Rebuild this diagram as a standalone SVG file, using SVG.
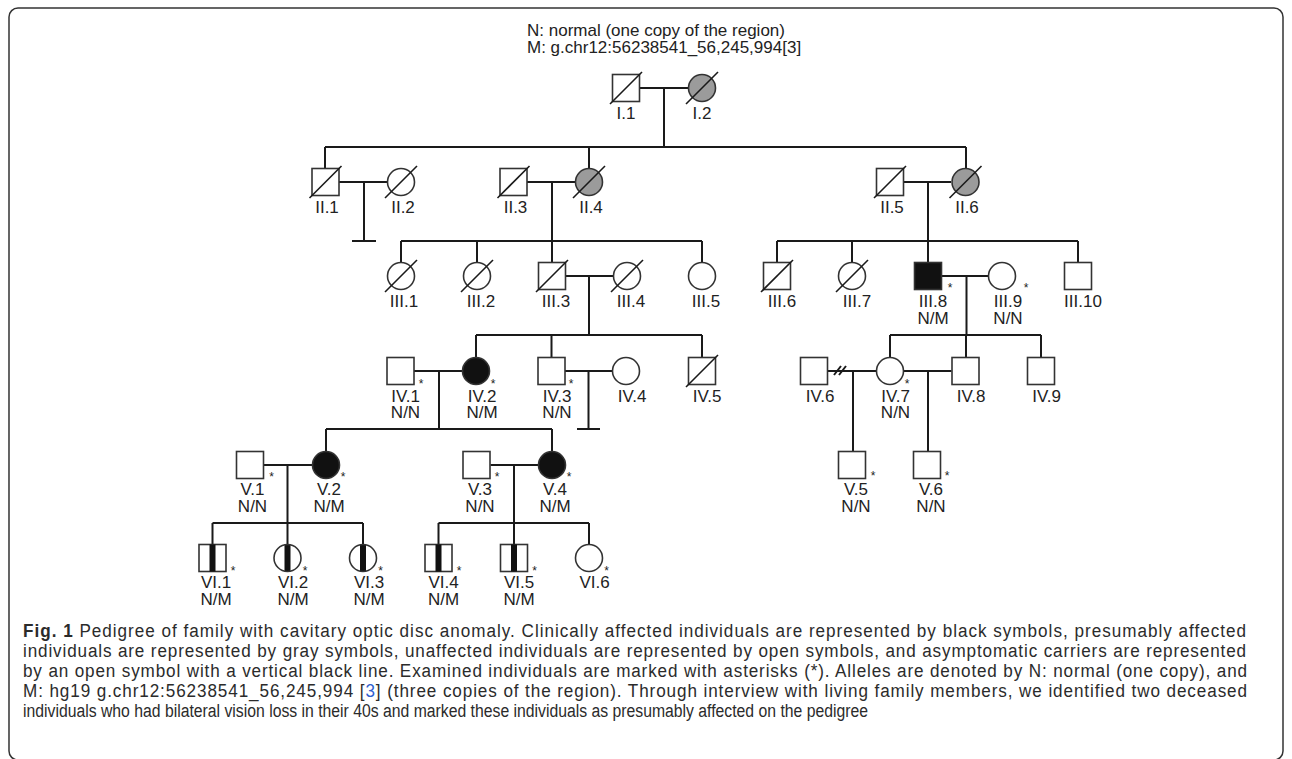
<svg xmlns="http://www.w3.org/2000/svg" width="1292" height="759" viewBox="0 0 1292 759">
<style>
.ln{stroke:#1a1a1a;stroke-width:2;fill:none}
.sym{stroke:#333;stroke-width:1.6;fill:#fff}
.open{fill:none}
.gray{fill:#9b9b9b}
.blk{fill:#111}
.dec{stroke:#1a1a1a;stroke-width:1.6}
.bar{fill:#111}
text{font-family:"Liberation Sans",Arial,sans-serif;fill:#222}
.lbl{font-size:17px;text-anchor:middle}
.ast{font-size:12px;text-anchor:middle}
.hdr{font-size:17px}
.cap{font-family:"Liberation Sans",Arial,sans-serif;font-size:19px;fill:#2b2b2b}
</style>
<rect x="9" y="8" width="1274" height="752" rx="9" fill="#fff" stroke="#333" stroke-width="1.5"/>
<g id="header">
<text class="hdr" x="527" y="36">N: normal (one copy of the region)</text>
<text class="hdr" x="527" y="53">M: g.chr12:56238541_56,245,994[3]</text>
</g>
<g id="connectors">
<path class="ln" d="M640,88H688M664,88V147M325,147H966M325,147V168M589,147V168M966,147V168"/>
<path class="ln" d="M339,182H387M364,182V241M352,241H376"/>
<path class="ln" d="M527,182H575M552,182V241M401,241H702M401,241V262M477,241V262M552,241V262M702,241V262"/>
<path class="ln" d="M904,182H951M928,182V241M777,241H1078M777,241V262M852,241V262M928,241V262M1078,241V262"/>
<path class="ln" d="M566,276H613M589,276V335M476,335H702M476,335V357M551.5,335V357M702,335V357"/>
<path class="ln" d="M942,276H988M966.5,276V335M890,335H1041M890,335V357M966,335V357M1041,335V357"/>
<path class="ln" d="M414,371H462M439,371V429M326,429H552M326,429V451M552,429V451"/>
<path class="ln" d="M565,371H612M588.5,371V429M577,429H600"/>
<path class="ln" d="M828,371H876M853,371V451M904,371H951.5M928,371V451"/>
<path class="ln" stroke-width="1.5" d="M834,375L841,366M839,375L846,366"/>
<path class="ln" d="M264,465H312M287.5,465V523M212.5,523H363M212.5,523V544M287.5,523V544M363,523V544"/>
<path class="ln" d="M490.5,465H538M514,465V523M438.5,523H589M438.5,523V544M514,523V544M589,523V544"/>
</g>
<g id="I-1"><rect class="sym" x="612.5" y="74.5" width="27" height="27"/><line class="dec" x1="610" y1="104" x2="642" y2="72"/><text class="lbl" x="626" y="119">I.1</text></g>
<g id="I-2"><circle class="sym gray" cx="702" cy="88" r="13.5"/><line class="dec" x1="686" y1="104" x2="718" y2="72"/><text class="lbl" x="702" y="119">I.2</text></g>
<g id="II-1"><rect class="sym" x="312" y="168.5" width="27" height="27"/><line class="dec" x1="309.5" y1="198" x2="341.5" y2="166"/><text class="lbl" x="327" y="213">II.1</text></g>
<g id="II-2"><circle class="sym" cx="401" cy="182" r="13.5"/><line class="dec" x1="385" y1="198" x2="417" y2="166"/><text class="lbl" x="403" y="213">II.2</text></g>
<g id="II-3"><rect class="sym" x="500" y="168.5" width="27" height="27"/><line class="dec" x1="497.5" y1="198" x2="529.5" y2="166"/><text class="lbl" x="515.5" y="213">II.3</text></g>
<g id="II-4"><circle class="sym gray" cx="589" cy="182" r="13.5"/><line class="dec" x1="573" y1="198" x2="605" y2="166"/><text class="lbl" x="591" y="213">II.4</text></g>
<g id="II-5"><rect class="sym" x="876.5" y="168.5" width="27" height="27"/><line class="dec" x1="874" y1="198" x2="906" y2="166"/><text class="lbl" x="892" y="213">II.5</text></g>
<g id="II-6"><circle class="sym gray" cx="965.5" cy="182" r="13.5"/><line class="dec" x1="949.5" y1="198" x2="981.5" y2="166"/><text class="lbl" x="967" y="213">II.6</text></g>
<g id="III-1"><circle class="sym" cx="401" cy="276" r="13.5"/><line class="dec" x1="385" y1="292" x2="417" y2="260"/><text class="lbl" x="404" y="307">III.1</text></g>
<g id="III-2"><circle class="sym" cx="477" cy="276" r="13.5"/><line class="dec" x1="461" y1="292" x2="493" y2="260"/><text class="lbl" x="481" y="307">III.2</text></g>
<g id="III-3"><rect class="sym" x="538.5" y="262.5" width="27" height="27"/><line class="dec" x1="536" y1="292" x2="568" y2="260"/><text class="lbl" x="556" y="307">III.3</text></g>
<g id="III-4"><circle class="sym" cx="627" cy="276" r="13.5"/><line class="dec" x1="611" y1="292" x2="643" y2="260"/><text class="lbl" x="631" y="307">III.4</text></g>
<g id="III-5"><circle class="sym" cx="702" cy="276" r="13.5"/><text class="lbl" x="706" y="307">III.5</text></g>
<g id="III-6"><rect class="sym" x="763.5" y="262.5" width="27" height="27"/><line class="dec" x1="761" y1="292" x2="793" y2="260"/><text class="lbl" x="782" y="307">III.6</text></g>
<g id="III-7"><circle class="sym" cx="852" cy="276" r="13.5"/><line class="dec" x1="836" y1="292" x2="868" y2="260"/><text class="lbl" x="857" y="307">III.7</text></g>
<g id="III-8"><rect class="sym blk" x="914.5" y="262.5" width="27" height="27"/><text class="ast" x="950" y="292">*</text><text class="lbl" x="933" y="307">III.8</text><text class="lbl" x="933" y="324">N/M</text></g>
<g id="III-9"><circle class="sym" cx="1002" cy="276" r="13.5"/><text class="ast" x="1026" y="292">*</text><text class="lbl" x="1008" y="307">III.9</text><text class="lbl" x="1008" y="324">N/N</text></g>
<g id="III-10"><rect class="sym" x="1064.5" y="262.5" width="27" height="27"/><text class="lbl" x="1083" y="307">III.10</text></g>
<g id="IV-1"><rect class="sym" x="387" y="357.5" width="27" height="27"/><text class="ast" x="421" y="388">*</text><text class="lbl" x="405.5" y="402">IV.1</text><text class="lbl" x="405.5" y="418">N/N</text></g>
<g id="IV-2"><circle class="sym blk" cx="476" cy="371" r="13.5"/><text class="ast" x="493" y="388">*</text><text class="lbl" x="482" y="402">IV.2</text><text class="lbl" x="482" y="418">N/M</text></g>
<g id="IV-3"><rect class="sym" x="538" y="357.5" width="27" height="27"/><text class="ast" x="571" y="388">*</text><text class="lbl" x="557" y="402">IV.3</text><text class="lbl" x="557" y="418">N/N</text></g>
<g id="IV-4"><circle class="sym" cx="626" cy="371" r="13.5"/><text class="lbl" x="632" y="402">IV.4</text></g>
<g id="IV-5"><rect class="sym" x="688.5" y="357.5" width="27" height="27"/><line class="dec" x1="686" y1="387" x2="718" y2="355"/><text class="lbl" x="707" y="402">IV.5</text></g>
<g id="IV-6"><rect class="sym" x="800.5" y="357.5" width="27" height="27"/><text class="lbl" x="820" y="402">IV.6</text></g>
<g id="IV-7"><circle class="sym" cx="890" cy="371" r="13.5"/><text class="ast" x="907" y="388">*</text><text class="lbl" x="895.5" y="402">IV.7</text><text class="lbl" x="895.5" y="418">N/N</text></g>
<g id="IV-8"><rect class="sym" x="952" y="357.5" width="27" height="27"/><text class="lbl" x="971" y="402">IV.8</text></g>
<g id="IV-9"><rect class="sym" x="1027.5" y="357.5" width="27" height="27"/><text class="lbl" x="1046.5" y="402">IV.9</text></g>
<g id="V-1"><rect class="sym" x="236.5" y="451.5" width="27" height="27"/><text class="ast" x="271.5" y="481">*</text><text class="lbl" x="252.5" y="495">V.1</text><text class="lbl" x="252.5" y="512">N/N</text></g>
<g id="V-2"><circle class="sym blk" cx="326" cy="465" r="13.5"/><text class="ast" x="343" y="481">*</text><text class="lbl" x="329" y="495">V.2</text><text class="lbl" x="329" y="512">N/M</text></g>
<g id="V-3"><rect class="sym" x="463" y="451.5" width="27" height="27"/><text class="ast" x="497" y="481">*</text><text class="lbl" x="480" y="495">V.3</text><text class="lbl" x="480" y="512">N/N</text></g>
<g id="V-4"><circle class="sym blk" cx="552" cy="465" r="13.5"/><text class="ast" x="569" y="481">*</text><text class="lbl" x="555" y="495">V.4</text><text class="lbl" x="555" y="512">N/M</text></g>
<g id="V-5"><rect class="sym" x="838.5" y="451.5" width="27" height="27"/><text class="ast" x="873" y="480">*</text><text class="lbl" x="856" y="495">V.5</text><text class="lbl" x="856" y="512">N/N</text></g>
<g id="V-6"><rect class="sym" x="913.5" y="451.5" width="27" height="27"/><text class="ast" x="947" y="480">*</text><text class="lbl" x="931" y="495">V.6</text><text class="lbl" x="931" y="512">N/N</text></g>
<g id="VI-1"><rect class="sym" x="199" y="544.5" width="27" height="27"/><rect class="bar" x="209.5" y="544.5" width="6" height="27"/><text class="ast" x="233" y="575">*</text><text class="lbl" x="216" y="588">VI.1</text><text class="lbl" x="216" y="605">N/M</text></g>
<g id="VI-2"><rect class="bar" x="284.5" y="544.5" width="6" height="27"/><circle class="sym open" cx="287.5" cy="558" r="13.5"/><text class="ast" x="305" y="575">*</text><text class="lbl" x="293" y="588">VI.2</text><text class="lbl" x="293" y="605">N/M</text></g>
<g id="VI-3"><rect class="bar" x="360" y="544.5" width="6" height="27"/><circle class="sym open" cx="363" cy="558" r="13.5"/><text class="ast" x="380.5" y="575">*</text><text class="lbl" x="369" y="588">VI.3</text><text class="lbl" x="369" y="605">N/M</text></g>
<g id="VI-4"><rect class="sym" x="425" y="544.5" width="27" height="27"/><rect class="bar" x="435.5" y="544.5" width="6" height="27"/><text class="ast" x="459" y="575">*</text><text class="lbl" x="443.5" y="588">VI.4</text><text class="lbl" x="443.5" y="605">N/M</text></g>
<g id="VI-5"><rect class="sym" x="500.5" y="544.5" width="27" height="27"/><rect class="bar" x="511" y="544.5" width="6" height="27"/><text class="ast" x="534.5" y="575">*</text><text class="lbl" x="519" y="588">VI.5</text><text class="lbl" x="519" y="605">N/M</text></g>
<g id="VI-6"><circle class="sym" cx="589" cy="558" r="13.5"/><text class="ast" x="606.5" y="575">*</text><text class="lbl" x="594.5" y="588">VI.6</text></g>
<g id="caption" transform="scale(0.9,1)">
<text class="cap" x="25.56" y="637" textLength="1358.9" lengthAdjust="spacing"><tspan font-weight="bold">Fig. 1</tspan> Pedigree of family with cavitary optic disc anomaly. Clinically affected individuals are represented by black symbols, presumably affected</text>
<text class="cap" x="25.56" y="657" textLength="1358.9" lengthAdjust="spacing">individuals are represented by gray symbols, unaffected individuals are represented by open symbols, and asymptomatic carriers are represented</text>
<text class="cap" x="25.56" y="677" textLength="1360" lengthAdjust="spacing">by an open symbol with a vertical black line. Examined individuals are marked with asterisks (*). Alleles are denoted by N: normal (one copy), and</text>
<text class="cap" x="25.56" y="697" textLength="1360" lengthAdjust="spacing">M: hg19 g.chr12:56238541_56,245,994 [<tspan fill="#2f5fd0">3</tspan>] (three copies of the region). Through interview with living family members, we identified two deceased</text>
<text class="cap" x="25.56" y="717" textLength="938.9" lengthAdjust="spacingAndGlyphs">individuals who had bilateral vision loss in their 40s and marked these individuals as presumably affected on the pedigree</text>
</g>
</svg>
